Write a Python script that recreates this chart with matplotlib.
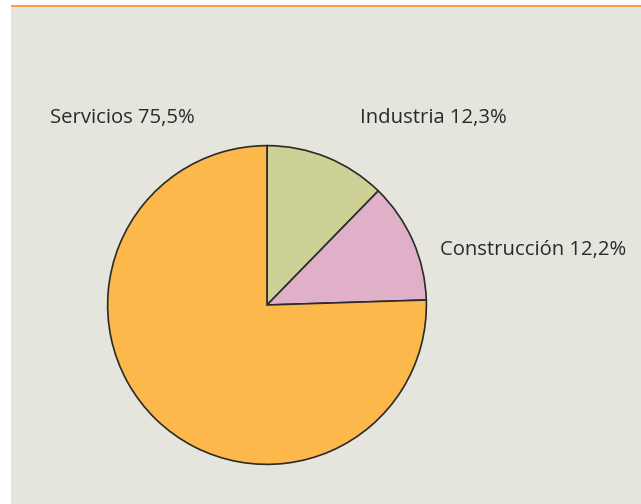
import matplotlib

matplotlib.use("Agg")
import matplotlib.pyplot as plt
from matplotlib.patches import Rectangle

sectors = ["Industria", "Construcción", "Servicios"]
shares = [12.3, 12.2, 75.5]
colors = ["#cdd196", "#e0b0c8", "#fdb84b"]

W, H = 641, 504
fig = plt.figure(figsize=(W / 100, H / 100), dpi=100)
fig.patch.set_facecolor("white")

# grey panel + orange rule on top
fig.patches.append(Rectangle((11 / W, 0), 1 - 11 / W, 1 - 7 / H,
                             transform=fig.transFigure, facecolor="#e5e5dd",
                             edgecolor="none", zorder=-2))
fig.patches.append(Rectangle((11 / W, 1 - 7 / H), 1 - 11 / W, 2.5 / H,
                             transform=fig.transFigure, facecolor="#f7a04a",
                             edgecolor="none", zorder=-1))

cx, cy, r = 267, 305, 160
ax = fig.add_axes([(cx - r) / W, (H - cy - r) / H, 2 * r / W, 2 * r / H])
ax.pie(shares, colors=colors, startangle=90, counterclock=False,
       wedgeprops=dict(edgecolor="#2a2a2a", linewidth=1.2))
ax.set_xlim(-1.004, 1.004)
ax.set_ylim(-1.004, 1.004)
ax.set_aspect("equal")
ax.patch.set_alpha(0)

font = dict(family=["Open Sans", "DejaVu Sans"], fontsize=14.6, color="#2a2a2a")
label_pos = {"Industria": (360, 118), "Construcción": (440, 250), "Servicios": (50, 118)}
for name, val in zip(sectors, shares):
    x, y = label_pos[name]
    fig.text(x / W, 1 - y / H, f"{name} {val:.1f}%".replace(".", ","),
             ha="left", va="center", **font)

fig.savefig("out.png", dpi=100, facecolor=fig.get_facecolor())
